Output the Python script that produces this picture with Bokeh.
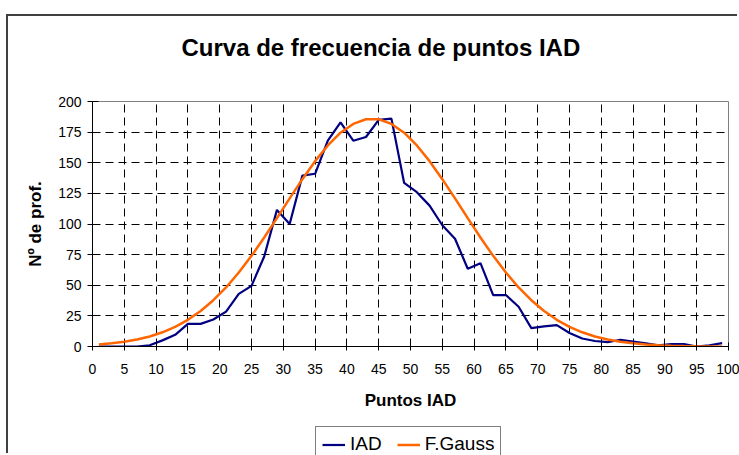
from bokeh.plotting import figure
from bokeh.layouts import column
from bokeh.models import Range1d, FixedTicker, Legend, LegendItem
from bokeh.embed import file_html
from bokeh.resources import INLINE

# ---- data ----
x_points = [1, 3, 5, 7, 9, 11, 13, 15, 17, 19, 21, 23, 25, 27, 29, 31, 33, 35, 37, 39,
            41, 43, 45, 47, 49, 51, 53, 55, 57, 59, 61, 63, 65, 67, 69, 71, 73, 75, 77, 79,
            81, 83, 85, 87, 89, 91, 93, 95, 97, 99]
iad = [0, 0, 0, 0, 1, 5, 9.5, 18.5, 18.5, 22, 28.5, 43, 49.5, 73.5, 111.5, 100, 139.5, 141, 168, 183,
       168, 171, 185, 186, 133.5, 126, 115, 99, 88, 63.5, 68, 42, 42, 32.5, 15, 16.5, 17.5, 11, 6.5, 4.5,
       3.5, 5.5, 4, 2.5, 1, 2, 2, 0, 1, 2.7]
gauss = [1.7, 2.6, 3.8, 5.7, 8.2, 11.6, 16.0, 21.8, 29.0, 37.8, 48.2, 60.4, 74.0, 89.0, 104.8, 120.9,
         136.6, 151.3, 164.1, 174.5, 181.7, 185.5, 185.5, 181.7, 174.5, 164.1, 151.3, 136.6, 120.9,
         104.8, 89.0, 74.0, 60.4, 48.2, 37.8, 29.0, 21.8, 16.0, 11.6, 8.2, 5.7, 3.8, 2.6, 1.7, 1.1,
         0.7, 0.4, 0.2, 0.1, 0.1]
x_ticks = list(range(0, 101, 5))
y_ticks = list(range(0, 201, 25))
x_grid = x_ticks[1:-1]
y_grid = y_ticks[1:-1]
series_names = ["IAD", "F.Gauss"]
series_colors = ["#000080", "#FF6600"]

FONT = "Liberation Sans"

W = 731
p = figure(width=W, height=410, output_backend="svg", toolbar_location=None,
           x_range=Range1d(0, 100), y_range=Range1d(0, 200),
           min_border_left=84, min_border_right=11, min_border_top=85, min_border_bottom=80)
p.background_fill_color = "white"
p.border_fill_color = "white"
p.outline_line_color = "#808080"
p.outline_line_width = 1

# title (an empty second line lifts it towards the top of the chart box)
p.title.text = "Curva de frecuencia de puntos IAD\n"
p.title.align = "left"
p.title.offset = 89
p.title.standoff = 28
p.title.text_line_height = 1.0
p.title.text_font = FONT
p.title.text_font_style = "bold"
p.title.text_font_size = "24px"
p.title.text_color = "black"

# axes
for ax, ticks in ((p.xaxis, x_ticks), (p.yaxis, y_ticks)):
    ax.ticker = FixedTicker(ticks=ticks)
    ax.minor_tick_line_color = None
    ax.axis_line_color = "black"
    ax.major_tick_line_color = "black"
    ax.major_label_text_font = FONT
    ax.major_label_text_font_size = "14px"
    ax.major_label_text_color = "black"
    ax.axis_label_text_font = FONT
    ax.axis_label_text_font_style = "bold"
    ax.axis_label_text_font_size = "17px"
    ax.axis_label_text_color = "black"

p.xaxis.major_tick_in = 4
p.xaxis.major_tick_out = 4
p.xaxis.major_label_standoff = 13
p.xaxis.axis_label = "Puntos IAD"
p.xaxis.axis_label_standoff = 14

p.yaxis.major_tick_in = 6
p.yaxis.major_tick_out = 5
p.yaxis.major_label_standoff = 6
p.yaxis.axis_label = "Nº de prof."
p.yaxis.axis_label_standoff = 10

# grids
p.xgrid.ticker = FixedTicker(ticks=x_grid)
p.ygrid.ticker = FixedTicker(ticks=y_grid)
for g in (p.xgrid, p.ygrid):
    g.grid_line_color = "black"
    g.grid_line_width = 1
    g.grid_line_dash = "8 5"

# lines
p.line(x_points, iad, line_color=series_colors[0], line_width=2.2)
p.line(x_points, gauss, line_color=series_colors[1], line_width=2.5)

# legend strip below the chart (its own small plot, lines kept out of view)
p2 = figure(width=W, height=29, output_backend="svg", toolbar_location=None,
            x_range=Range1d(0, 100), y_range=Range1d(1000, 2000),
            x_axis_location=None, y_axis_location=None,
            min_border_left=0, min_border_right=0, min_border_top=0, min_border_bottom=0)
p2.title = None
p2.outline_line_color = None
p2.xgrid.visible = False
p2.ygrid.visible = False
p2.background_fill_color = "white"
p2.border_fill_color = "white"
l1 = p2.line(x_points, iad, line_color=series_colors[0], line_width=2.2)
l2 = p2.line(x_points, gauss, line_color=series_colors[1], line_width=2.5)

legend = Legend(items=[LegendItem(label=series_names[0], renderers=[l1]),
                       LegendItem(label=series_names[1], renderers=[l2])],
                orientation="horizontal", location=(223, -7),
                label_text_font=FONT, label_text_font_size="19px", label_text_color="black",
                glyph_width=23, glyph_height=21, label_height=21,
                label_standoff=5, spacing=15,
                padding=6, margin=0, border_line_color="black", border_line_width=1,
                background_fill_color="white")
p2.add_layout(legend)

layout = column(p, p2, spacing=0,
                styles={"margin-left": "8px", "margin-top": "16px",
                        "box-shadow": "-2px -2px 0 0 #404040"})

open("out.html", "w").write(file_html(layout, INLINE))
